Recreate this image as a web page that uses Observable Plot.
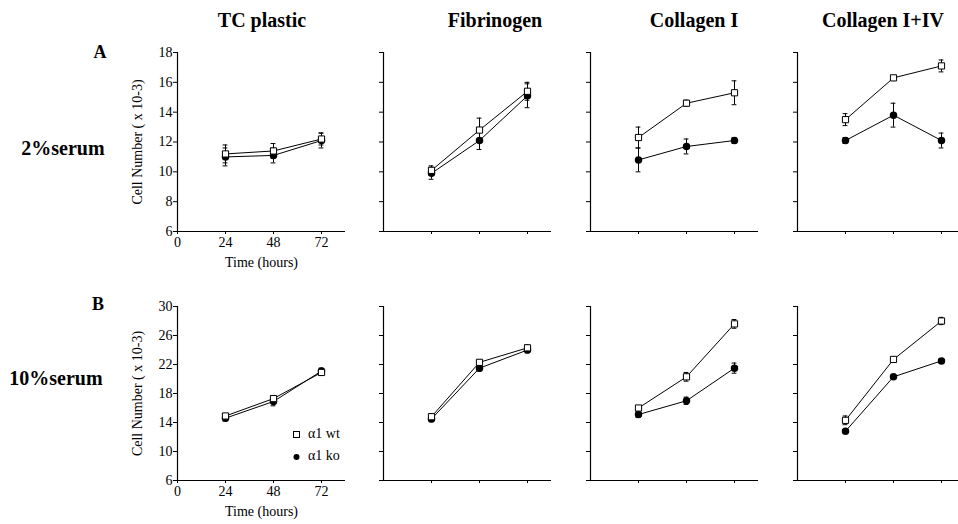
<!DOCTYPE html>
<html><head><meta charset="utf-8">
<script src="https://cdn.jsdelivr.net/npm/d3@7"></script>
<script src="https://cdn.jsdelivr.net/npm/@observablehq/plot@0.6"></script>
<style>
body{margin:0;background:#fff;}
#fig{position:relative;width:958px;height:524px;overflow:hidden;background:#fff;font-family:"Liberation Serif","Times New Roman",serif;color:#000;}
.abs{position:absolute;white-space:nowrap;}
.ctr{transform:translate(-50%,-50%);}
.title{font-weight:bold;font-size:20px;}
.letter{font-weight:bold;font-size:18px;}
.legend{font-size:14px;line-height:22px;}
.legend svg{vertical-align:middle;margin-right:6px;}
</style></head>
<body><div id="fig"></div>
<script>
const times = [24, 48, 72];
const conditions = ["TC plastic", "Fibrinogen", "Collagen I", "Collagen I+IV"];
const rowLetters = ["A", "B"];
const rowLabels = ["2%serum", "10%serum"];
const genotypes = ["α1 wt", "α1 ko"];
const yTicksTop = [6, 8, 10, 12, 14, 16, 18];
const yTicksBottom = [6, 10, 14, 18, 22, 26, 30];
const xTicksLabeled = [0, 24, 48, 72];

// 2% serum (row A), per condition: values at 24, 48, 72 h
const wt2 = [[11.2, 11.4, 12.2], [10.1, 12.8, 15.4], [12.3, 14.6, 15.3], [13.5, 16.3, 17.1]];
const wt2Err = [[0.6, 0.5, 0.4], [0.3, 0.8, 0.6], [0.7, 0.2, 0.8], [0.4, 0.15, 0.4]];
const ko2 = [[11.0, 11.1, 12.1], [9.9, 12.1, 15.1], [10.8, 11.7, 12.1], [12.1, 13.8, 12.1]];
const ko2Err = [[0.6, 0.5, 0.5], [0.4, 0.6, 0.8], [0.8, 0.5, 0.2], [0.2, 0.8, 0.5]];
// 10% serum (row B)
const wt10 = [[14.9, 17.3, 20.9], [14.8, 22.3, 24.3], [16.0, 20.3, 27.6], [14.3, 22.7, 28.0]];
const wt10Err = [[0.3, 0.4, 0.4], [0.4, 0.3, 0.4], [0.3, 0.6, 0.6], [0.6, 0.3, 0.5]];
const ko10 = [[14.6, 16.9, 21.1], [14.5, 21.5, 24.0], [15.1, 17.0, 21.5], [12.8, 20.3, 22.5]];
const ko10Err = [[0.4, 0.6, 0.4], [0.4, 0.4, 0.4], [0.4, 0.5, 0.7], [0.2, 0.2, 0.3]];

const fig = document.getElementById("fig");
const axisX0 = [177, 383, 590, 797];
const rowTop = [40, 294];

function addText(txt, cls, x, y) {
  const d = document.createElement("div");
  d.className = "abs ctr " + cls;
  d.style.left = x + "px"; d.style.top = y + "px";
  d.textContent = txt;
  fig.appendChild(d);
}

function panel(row, col) {
  const first = col === 0;
  const yTicks = row === 0 ? yTicksTop : yTicksBottom;
  const wt = row === 0 ? wt2[col] : wt10[col];
  const wtE = row === 0 ? wt2Err[col] : wt10Err[col];
  const ko = row === 0 ? ko2[col] : ko10[col];
  const koE = row === 0 ? ko2Err[col] : ko10Err[col];
  const data = [];
  times.forEach((t, i) => data.push({g: genotypes[0], t, v: wt[i], e: wtE[i]}));
  times.forEach((t, i) => data.push({g: genotypes[1], t, v: ko[i], e: koE[i]}));
  const ml = first ? 77 : 10;
  const plotH = row === 0 ? 179 : 174;
  const mb = row === 0 ? 45 : 44;
  const svg = Plot.plot({
    width: ml + 168 + 4,
    height: 12 + plotH + mb,
    marginLeft: ml, marginRight: 4, marginTop: 12, marginBottom: mb,
    x: {domain: [0, 84]},
    y: {domain: [6, yTicks[yTicks.length - 1]]},
    style: {fontFamily: '"Liberation Serif", "Times New Roman", serif', fontSize: "14px", background: "transparent", overflow: "visible", color: "#000"},
    marks: [
      Plot.ruleX([0], {stroke: "#000", strokeWidth: 1.2}),
      Plot.ruleY([6], {stroke: "#000", strokeWidth: 1.2}),
      Plot.axisY({ticks: yTicks, tickSize: 4, tickPadding: 1,
        tickFormat: first ? (d => d) : (() => ""),
        label: first ? "Cell Number ( x 10-3)" : null,
        labelAnchor: "center", labelArrow: "none", labelOffset: 45}),
      Plot.axisX({ticks: first ? xTicksLabeled : times, tickSize: 3, tickPadding: 3,
        tickFormat: first ? (d => d) : (() => ""),
        label: first ? "Time (hours)" : null,
        labelAnchor: "center", labelArrow: "none", labelOffset: 35}),
      Plot.line(data, {x: "t", y: "v", z: "g", stroke: "#000", strokeWidth: 1}),
      Plot.ruleX(data, {x: "t", y1: d => d.v - d.e, y2: d => d.v + d.e, stroke: "#000", strokeWidth: 1}),
      Plot.ruleY(data, {y: d => d.v + d.e, x1: d => d.t - 1.2, x2: d => d.t + 1.2, stroke: "#000", strokeWidth: 1}),
      Plot.ruleY(data, {y: d => d.v - d.e, x1: d => d.t - 1.2, x2: d => d.t + 1.2, stroke: "#000", strokeWidth: 1}),
      Plot.dot(data.filter(d => d.g === genotypes[1]), {x: "t", y: "v", symbol: "circle", r: 3, fill: "#000", stroke: "#000"}),
      Plot.dot(data.filter(d => d.g === genotypes[0]), {x: "t", y: "v", symbol: "square", r: 3.5, fill: "#fff", stroke: "#000", strokeWidth: 1})
    ]
  });
  svg.style.position = "absolute";
  svg.style.left = (axisX0[col] - ml) + "px";
  svg.style.top = rowTop[row] + "px";
  fig.appendChild(svg);
}

for (let r = 0; r < 2; r++) for (let c = 0; c < 4; c++) panel(r, c);

// column titles
const titleX = [262, 495, 694, 883];
conditions.forEach((c, i) => addText(c, "title", titleX[i], 20));
// row letters and labels
addText(rowLetters[0], "letter", 100, 52);
addText(rowLabels[0], "title", 63, 148);
addText(rowLetters[1], "letter", 98, 304);
addText(rowLabels[1], "title", 56, 378);

// legend
const leg = document.createElement("div");
leg.className = "abs legend";
leg.style.left = "292px"; leg.style.top = "423px";
leg.innerHTML =
  `<div><svg width="10" height="10"><rect x="1.5" y="1.5" width="6" height="6" fill="#fff" stroke="#000"/></svg>${genotypes[0]}</div>` +
  `<div><svg width="10" height="10"><circle cx="4.5" cy="5" r="3" fill="#000"/></svg>${genotypes[1]}</div>`;
fig.appendChild(leg);
</script></body></html>
